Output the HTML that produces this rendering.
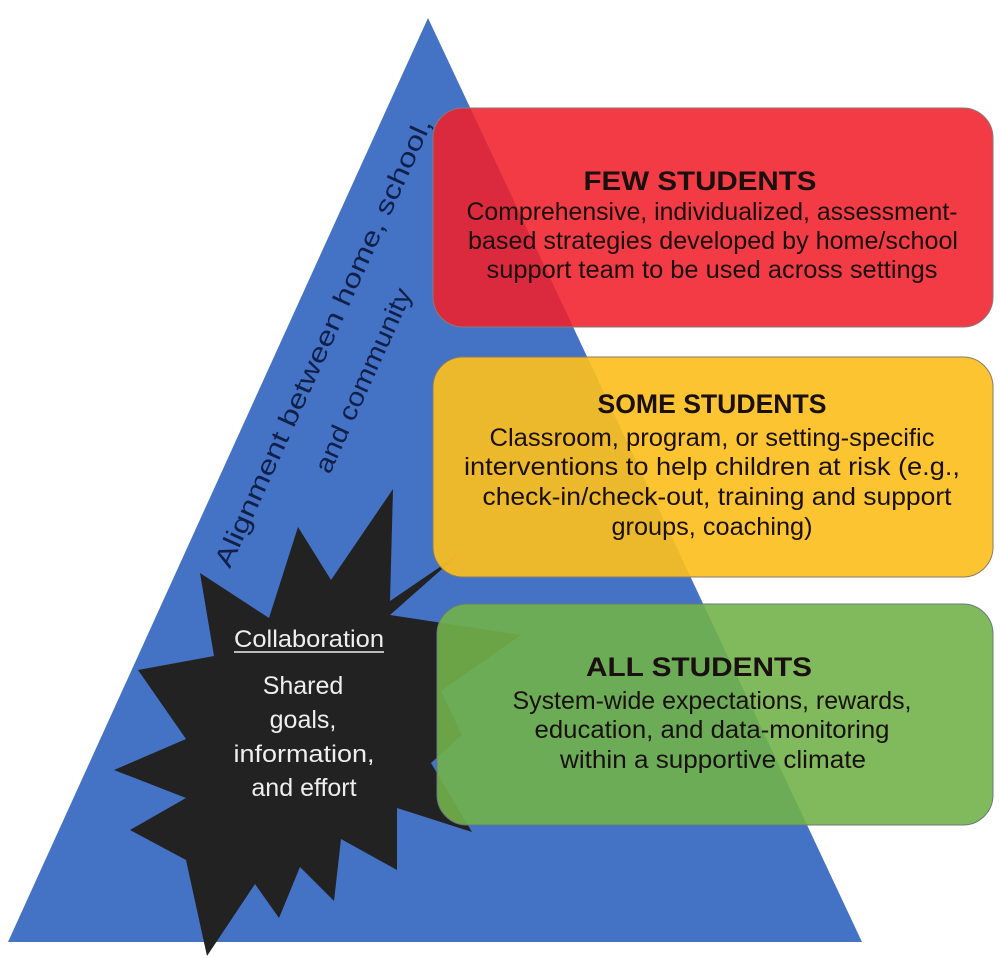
<!DOCTYPE html>
<html><head><meta charset="utf-8"><style>
html,body{margin:0;padding:0;background:#fff;}
svg{display:block;}
text{font-family:"Liberation Sans",sans-serif;}
</style></head><body>
<svg width="1000" height="958" viewBox="0 0 1000 958" xmlns="http://www.w3.org/2000/svg">
<polygon points="428,18 862,942 8,942" fill="#4472c4"/>
<g font-size="26" fill="#10204a" text-anchor="middle">
<text transform="translate(331,346) rotate(-65.6)" textLength="490" lengthAdjust="spacingAndGlyphs">Alignment between home, school,</text>
<text transform="translate(371,384) rotate(-65.6)" textLength="200" lengthAdjust="spacingAndGlyphs">and community</text>
</g>
<polygon fill="#222222" points="393,489 390,601 459,554 390,615 521,635 441,691 462,735 431,763 472,832 397,808 397,870 341,839 334,901 300,867 279,918 255,884 207,956 186,860 130,830 186,798 114,770 186,739 138,670 214,656 200,573 269,618 298,527 331,580"/>
<g fill="#eeeeee" font-size="24" text-anchor="middle">
<text x="309" y="647" textLength="150" lengthAdjust="spacingAndGlyphs">Collaboration</text>
<line x1="234" y1="652" x2="384" y2="652" stroke="#eee" stroke-width="1.5"/>
<text x="303" y="694" font-size="25">Shared</text>
<text x="303" y="728" font-size="25">goals,</text>
<text x="304" y="762" textLength="141" lengthAdjust="spacingAndGlyphs">information,</text>
<text x="304" y="796" font-size="25">and effort</text>
</g>
<rect x="433" y="108" width="560" height="219" rx="30" fill="#f0202a" fill-opacity="0.88" stroke="#8a7a7a" stroke-width="1"/>
<rect x="433" y="357" width="560" height="220" rx="30" fill="#fbbf1e" fill-opacity="0.92" stroke="#8a7a6a" stroke-width="1"/>
<rect x="437" y="604" width="556" height="221" rx="30" fill="#72b24a" fill-opacity="0.9" stroke="#6a7a7a" stroke-width="1"/>
<g text-anchor="middle" fill="#1a1010">
<text x="700" y="190" font-size="27" font-weight="bold" textLength="233" lengthAdjust="spacingAndGlyphs">FEW STUDENTS</text>
<text x="712" y="220" font-size="25" textLength="491" lengthAdjust="spacingAndGlyphs">Comprehensive, individualized, assessment-</text>
<text x="713" y="249" font-size="25" textLength="490" lengthAdjust="spacingAndGlyphs">based strategies developed by home/school</text>
<text x="712" y="278" font-size="25" textLength="451" lengthAdjust="spacingAndGlyphs">support team to be used across settings</text>
<text x="712" y="413" font-size="27" font-weight="bold" textLength="229" lengthAdjust="spacingAndGlyphs">SOME STUDENTS</text>
<text x="712" y="446" font-size="25" textLength="445" lengthAdjust="spacingAndGlyphs">Classroom, program, or setting-specific</text>
<text x="712" y="475" font-size="25" textLength="496" lengthAdjust="spacingAndGlyphs">interventions to help children at risk (e.g.,</text>
<text x="717" y="505" font-size="25" textLength="469" lengthAdjust="spacingAndGlyphs">check-in/check-out, training and support</text>
<text x="712" y="535" font-size="25" textLength="201" lengthAdjust="spacingAndGlyphs">groups, coaching)</text>
<text x="699" y="676" font-size="27" font-weight="bold" textLength="226" lengthAdjust="spacingAndGlyphs">ALL STUDENTS</text>
<text x="712" y="709" font-size="25" textLength="399" lengthAdjust="spacingAndGlyphs">System-wide expectations, rewards,</text>
<text x="712" y="738" font-size="25" textLength="355" lengthAdjust="spacingAndGlyphs">education, and data-monitoring</text>
<text x="713" y="768" font-size="25" textLength="306" lengthAdjust="spacingAndGlyphs">within a supportive climate</text>
</g>
</svg>
</body></html>
